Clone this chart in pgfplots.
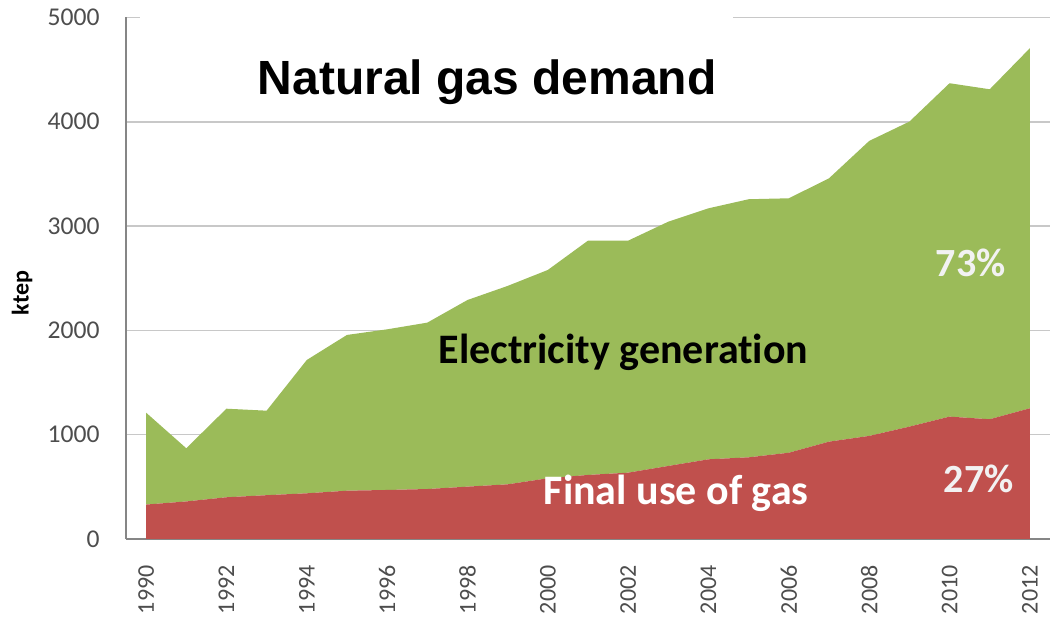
\documentclass[border=0pt]{standalone}
\usepackage{fontspec}
\setmainfont{Carlito}[Ligatures=NoCommon]
\newfontfamily\arialfont{Liberation Sans}
\usepackage{pgfplots}
\usepackage{pgfplotstable}
\pgfplotsset{compat=1.18}

\definecolor{elecgreen}{HTML}{9BBB59}
\definecolor{gasred}{HTML}{C0504D}
\definecolor{gridgray}{HTML}{C8C8C8}
\definecolor{axisgray}{HTML}{868686}
\definecolor{ticktext}{HTML}{4D4D4D}

% natural gas demand, ktep
\pgfplotstableread{
year final elec
1990 330 881
1991 360 510
1992 400 849
1993 420 810
1994 438 1278
1995 463 1493
1996 470 1540
1997 479 1595
1998 502 1789
1999 524 1902
2000 582 1997
2001 614 2246
2002 636 2224
2003 700 2342
2004 764 2406
2005 783 2474
2006 827 2439
2007 933 2525
2008 988 2828
2009 1077 2924
2010 1173 3196
2011 1148 3163
2012 1253 3452
}\gasdata

\begin{document}
\begin{tikzpicture}
\useasboundingbox (-63pt,-41pt) rectangle (462pt,269.5pt);
\begin{axis}[
    at={(0,0)}, anchor=south west,
    scale only axis, width=462pt, height=260.8pt,
    xmin=1989.5, xmax=2012.5, ymin=0, ymax=5000,
    clip=false,
    stack plots=y, area style, axis on top=false,
    axis lines*=left,
    axis line style={axisgray, line width=1pt},
    major tick length=0pt,
    xtick={1990,1992,...,2012},
    ytick={0,1000,...,5000},
    ymajorgrids, grid style={gridgray, line width=0.8pt},
    /pgf/number format/1000 sep={},
    /pgf/number format/assume math mode=true,
    tick label style={ticktext, inner sep=0pt},
    yticklabel style={font=\fontsize{12.8}{14}\selectfont, anchor=east},
    xticklabel style={font=\fontsize{12}{14}\selectfont, rotate=90, anchor=east},
    xticklabel shift=13pt, yticklabel shift=13pt,
    ylabel={ktep},
    every axis y label/.style={at={(axis description cs:0,0.472)}, xshift=-52pt,
        rotate=90, anchor=center, font=\bfseries\fontsize{12}{14}\selectfont},
]
    \addplot[fill=gasred, draw=none] table[x=year, y=final] {\gasdata} \closedcycle;
    \addplot[fill=elecgreen, draw=none] table[x=year, y=elec] {\gasdata} \closedcycle;

    \coordinate (boxa) at (axis cs:1989.85,4550);
    \coordinate (boxb) at (axis cs:2004.62,5060);
    \coordinate (ttl) at (axis cs:1998.49,4257);
    \coordinate (elec) at (axis cs:1997.27,1678);
    \coordinate (fin) at (axis cs:1999.89,326);
    \coordinate (p73) at (axis cs:2009.65,2512);
    \coordinate (p27) at (axis cs:2009.85,441);
\end{axis}
% white box behind the title hides the 5000 grid line
\fill[white] (boxa) rectangle (boxb);
\node[anchor=base, font=\arialfont\bfseries\fontsize{24}{28}\selectfont] at (ttl) {Natural gas demand};
\node[anchor=base west, inner sep=0pt, font=\bfseries\fontsize{21}{24}\selectfont] at (elec) {Electricity generation};
\node[anchor=base west, inner sep=0pt, text=white, font=\bfseries\fontsize{21}{24}\selectfont] at (fin) {Final use of gas};
\node[anchor=base west, inner sep=0pt, text=white!95!black, font=\bfseries\fontsize{20}{24}\selectfont] at (p73) {73\%};
\node[anchor=base west, inner sep=0pt, text=white!95!black, font=\bfseries\fontsize{20}{24}\selectfont] at (p27) {27\%};
\end{tikzpicture}
\end{document}
